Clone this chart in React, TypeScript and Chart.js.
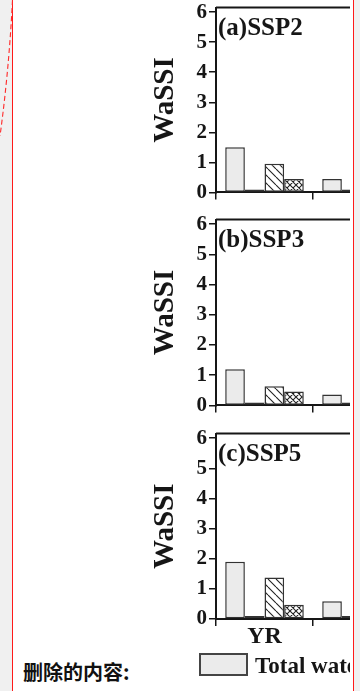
import React, { useEffect, useRef } from 'react';
import { Chart, registerables } from 'chart.js';

Chart.register(...registerables);

// ---- data ----
const categories = ['YR', ''];
const panelTitles = ['(a)SSP2', '(b)SSP3', '(c)SSP5'];
const yTickValues = [0, 1, 2, 3, 4, 5, 6];
const seriesNames = ['Total water', 'Series 2', 'Series 3', 'Series 4'];
const legendLabel = 'Total water';
const yAxisTitle = 'WaSSI';
const noteText = '删除的内容:';

const ssp2Total = [1.5, 0.45];
const ssp2S2 = [0.1, 0.1];
const ssp2S3 = [0.95, 0.3];
const ssp2S4 = [0.45, 0.15];

const ssp3Total = [1.2, 0.36];
const ssp3S2 = [0.1, 0.1];
const ssp3S3 = [0.63, 0.2];
const ssp3S4 = [0.46, 0.12];

const ssp5Total = [1.9, 0.59];
const ssp5S2 = [0.1, 0.1];
const ssp5S3 = [1.38, 0.4];
const ssp5S4 = [0.47, 0.15];

const panelSeries = [
  [ssp2Total, ssp2S2, ssp2S3, ssp2S4],
  [ssp3Total, ssp3S2, ssp3S3, ssp3S4],
  [ssp5Total, ssp5S2, ssp5S3, ssp5S4],
];

// ---- layout ----
const panelFrames = [
  { frameTop: 5, zeroY: 193 },
  { frameTop: 217, zeroY: 406 },
  { frameTop: 431, zeroY: 619 },
];

const INK = '#161616';
const SERIF = '"Liberation Serif", "Times New Roman", serif';

function makePattern(kind: 'diag' | 'cross') {
  const s = kind === 'diag' ? 8 : 6;
  const c = document.createElement('canvas');
  c.width = s;
  c.height = s;
  const g = c.getContext('2d')!;
  g.fillStyle = '#ffffff';
  g.fillRect(0, 0, s, s);
  g.strokeStyle = '#222';
  g.lineWidth = 1.1;
  g.beginPath();
  for (const o of [-s, 0, s]) {
    g.moveTo(o, 0);
    g.lineTo(o + s, s);
    if (kind === 'cross') {
      g.moveTo(o + s, 0);
      g.lineTo(o, s);
    }
  }
  g.stroke();
  const p = document.createElement('canvas').getContext('2d')!.createPattern(c, 'repeat');
  return p as CanvasPattern;
}

const framePlugin = {
  id: 'frameTitle',
  afterDraw(chart: any, _args: any, opts: any) {
    const { ctx, chartArea } = chart;
    ctx.save();
    ctx.strokeStyle = INK;
    ctx.lineWidth = 2;
    ctx.beginPath();
    ctx.moveTo(chartArea.left, chartArea.top);
    ctx.lineTo(chartArea.right, chartArea.top);
    ctx.lineTo(chartArea.right, chartArea.bottom);
    ctx.stroke();
    ctx.fillStyle = INK;
    ctx.font = `bold 25px ${SERIF}`;
    ctx.textBaseline = 'alphabetic';
    ctx.textAlign = 'left';
    ctx.fillText(opts.text, chartArea.left + 2, chartArea.top + 27);
    ctx.restore();
  },
};

const CANVAS_LEFT = 140;
const CANVAS_WIDTH = 270;
const TOP_PAD = 12;

function Panel({ index }: { index: number }) {
  const ref = useRef<HTMLCanvasElement | null>(null);
  const { frameTop, zeroY } = panelFrames[index];
  const showX = index === 2;
  const xh = showX ? 34 : 14;
  const height = TOP_PAD + (zeroY - frameTop) + xh;
  const top = frameTop - TOP_PAD;

  useEffect(() => {
    if (!ref.current) return;
    const diag = makePattern('diag');
    const cross = makePattern('cross');
    const s = panelSeries[index];
    const fills: any[] = ['#ebebeb', '#2a2a2a', diag, cross];
    const chart = new Chart(ref.current, {
      type: 'bar',
      data: {
        labels: categories,
        datasets: s.map((vals, i) => ({
          label: seriesNames[i],
          data: vals,
          backgroundColor: fills[i],
          borderColor: '#333',
          borderWidth: 1.5,
          borderSkipped: false,
          categoryPercentage: 0.81,
          barPercentage: 1,
        })),
      },
      options: {
        responsive: false,
        animation: false,
        events: [],
        layout: { padding: { top: TOP_PAD, left: 0, right: 0, bottom: 0 } },
        plugins: {
          legend: { display: false },
          tooltip: { enabled: false },
          title: { display: false },
          frameTitle: { text: panelTitles[index] },
        } as any,
        scales: {
          x: {
            type: 'category',
            offset: true,
            grid: {
              display: true,
              offset: true,
              drawOnChartArea: false,
              drawTicks: true,
              tickLength: 7,
              color: INK,
              lineWidth: 1.5,
            },
            border: { display: true, color: INK, width: 2 },
            ticks: {
              display: showX,
              color: INK,
              font: { family: SERIF, size: 24, weight: 'bold' },
              padding: -4,
              maxRotation: 0,
              autoSkip: false,
            },
            afterFit: (sc: any) => {
              sc.height = xh;
            },
          },
          y: {
            type: 'linear',
            min: 0,
            max: 6.15,
            afterBuildTicks: (sc: any) => {
              sc.ticks = yTickValues.map((v) => ({ value: v }));
            },
            grid: {
              display: true,
              drawOnChartArea: false,
              drawTicks: true,
              tickLength: 7,
              color: INK,
              lineWidth: 1.5,
            },
            border: { display: true, color: INK, width: 2 },
            ticks: {
              color: INK,
              font: { family: SERIF, size: 21, weight: 'bold' },
              padding: 2,
              callback: (v: any) => String(v),
            },
            title: {
              display: true,
              text: yAxisTitle,
              color: INK,
              font: { family: SERIF, size: 29, weight: 'bold' },
              padding: { top: 8, bottom: 0 },
            },
            afterFit: (sc: any) => {
              sc.width = 76;
            },
          },
        },
      } as any,
      plugins: [framePlugin as any],
    });
    return () => chart.destroy();
  }, [index]);

  return (
    <canvas
      ref={ref}
      width={CANVAS_WIDTH}
      height={height}
      style={{
        position: 'absolute',
        left: CANVAS_LEFT,
        top,
        width: CANVAS_WIDTH,
        height,
        display: 'block',
      }}
    />
  );
}

export default function App() {
  return (
    <div
      style={{
        position: 'fixed',
        left: 0,
        top: 0,
        width: 360,
        height: 691,
        background: '#f0f0f0',
        overflow: 'hidden',
      }}
    >
      {/* white page */}
      <div
        style={{
          position: 'absolute',
          left: 12,
          top: 0,
          width: 342,
          height: 691,
          background: '#ffffff',
          borderLeft: '1px solid #ff1a1a',
          borderRight: '1px solid #ff1a1a',
          boxSizing: 'border-box',
        }}
      />
      <svg
        width={20}
        height={140}
        style={{ position: 'absolute', left: 0, top: 0 }}
      >
        <path
          d="M12.5,0 Q9,70 0,136"
          fill="none"
          stroke="#ff2a2a"
          strokeWidth={1.1}
          strokeDasharray="5 3"
        />
      </svg>
      <div
        style={{
          position: 'absolute',
          left: 23,
          top: 662,
          fontFamily: '"Noto Sans CJK SC", sans-serif',
          fontWeight: 700,
          fontSize: 20,
          lineHeight: 1,
          color: '#111',
          whiteSpace: 'nowrap',
        }}
      >
        {noteText}
      </div>
      {/* clipped chart region */}
      <div
        style={{
          position: 'absolute',
          left: 0,
          top: 0,
          width: 350,
          height: 691,
          overflow: 'hidden',
        }}
      >
        <Panel index={0} />
        <Panel index={1} />
        <Panel index={2} />
        <div
          style={{
            position: 'absolute',
            left: 199,
            top: 653,
            width: 49,
            height: 23,
            boxSizing: 'border-box',
            border: '2px solid #444',
            background: '#ebebeb',
          }}
        />
        <div
          style={{
            position: 'absolute',
            left: 255,
            top: 654,
            fontFamily: SERIF,
            fontWeight: 700,
            fontSize: 23,
            lineHeight: 1,
            color: INK,
            whiteSpace: 'nowrap',
          }}
        >
          {legendLabel}
        </div>
      </div>
    </div>
  );
}
